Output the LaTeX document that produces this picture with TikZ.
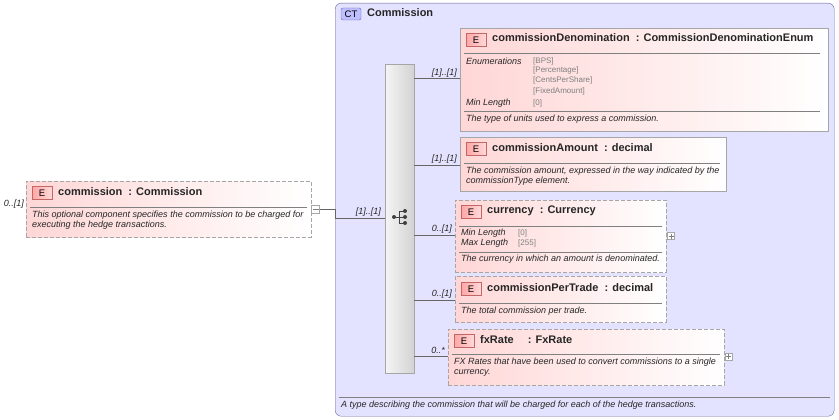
\documentclass[tikz,border=0pt]{standalone}
\usepackage{fontspec}
\setmainfont{Liberation Sans}
\begin{document}
\begin{tikzpicture}[x=1pt,y=-1pt,
  elem/.style={draw=gray!70, left color=red!16, right color=white},
  elemopt/.style={elem, dashed, dash pattern=on 4pt off 2pt},
  badge/.style={draw=red!60!black!60, left color=red!35, right color=red!15, minimum width=20pt, minimum height=13pt, inner sep=0pt, font=\fontsize{9.5}{10}\selectfont},
  ttl/.style={anchor=west, inner sep=0pt, font=\fontsize{11}{12}\selectfont\bfseries, text=black!85},
  sm/.style={anchor=west, inner sep=0pt, font=\fontsize{9}{10}\selectfont\itshape, text=black!85, align=left},
  val/.style={anchor=west, inner sep=0pt, font=\fontsize{8}{9}\selectfont, text=gray},
  card/.style={anchor=east, inner sep=0pt, font=\fontsize{9}{10}\selectfont\itshape, text=black!85},
  sep/.style={draw=gray, line width=0.6pt},
  conn/.style={draw=gray!80!black, line width=0.6pt},
  pm/.style={draw=gray!70, fill=white, minimum size=8pt, inner sep=0pt}]
\useasboundingbox (0,0) rectangle (839,420);
% CT container
\node[draw=gray!80!blue, rounded corners=6pt, fill=blue!11, minimum width=499pt, minimum height=413pt, anchor=north west, inner sep=0pt] (ct) at (335,3) {};
\node[draw=blue!50!black!60, fill=blue!25, rounded corners=2pt, minimum width=20pt, minimum height=12pt, inner sep=0pt, font=\fontsize{9.5}{10}\selectfont] (ctb) at (351,14) {CT};
\node[ttl] (ctt) at (367,13) {Commission};
\draw[sep] (339,397) -- (830,397);
\node[sm] (ctd) at (341,405) {A type describing the commission that will be charged for each of the hedge transactions.};
% sequence bar
\node[draw=gray!70, left color=gray!8, right color=gray!35, minimum width=29pt, minimum height=309pt, anchor=north west, inner sep=0pt] (seq) at (385,64) {};
\draw[black!75,line width=1pt] (394,217)--(399,217) (399,211)--(399,223) (399,211)--(405,211) (399,223)--(405,223) (399,217)--(405,217);
\foreach \p in {(394,217),(405,211),(405,217),(405,223)} \fill[black!75] \p circle[radius=2pt];
% root element
\node[elemopt, minimum width=285pt, minimum height=56pt, anchor=north west, inner sep=0pt] (root) at (26,181) {};
\node[badge] (rb) at (42,193) {E};
\node[ttl] (rt) at (58,192) {commission \ : Commission};
\draw[sep] (30,207) -- (307,207);
\node[sm] (rd) at (32,220) {This optional component specifies the commission to be charged for\\executing the hedge transactions.};
\node[card] (rc) at (24,204) {0..[1]};
\node[pm] (rm) at (315.5,209.5) {};
\draw[gray] (312.5,209.5) -- (318.5,209.5);
\coordinate (j1) at (335,209.5);
\coordinate (j2) at (335,218);
\draw[conn] (rm) -- (j1) -- (j2) -- (seq.west |- j2);
\node[card] at (381,212) {[1]..[1]};
% child 1
\node[elem, minimum width=368pt, minimum height=103pt, anchor=north west, inner sep=0pt] (c1) at (460,28) {};
\node[badge] at (476,40) {E};
\node[ttl] at (492,38) {commissionDenomination \ : CommissionDenominationEnum};
\draw[sep] (464,53) -- (820,53);
\node[sm] at (466,61) {Enumerations};
\node[val] at (533,61) {[BPS]};
\node[val] at (533,70) {[Percentage]};
\node[val] at (533,80) {[CentsPerShare]};
\node[val] at (533,91) {[FixedAmount]};
\node[sm] at (466,103) {Min Length};
\node[val] at (533,103) {[0]};
\draw[sep] (464,111) -- (820,111);
\node[sm] at (466,119) {The type of units used to express a commission.};
\draw[conn] (seq.east |- 0,78) -- (c1.west |- 0,78);
\node[card] at (457,73) {[1]..[1]};
% child 2
\node[elem, minimum width=266pt, minimum height=54pt, anchor=north west, inner sep=0pt] (c2) at (460,137) {};
\node[badge] at (476,149) {E};
\node[ttl] at (492,148) {commissionAmount \ : decimal};
\draw[sep] (464,163) -- (720,163);
\node[sm] at (466,176) {The commission amount, expressed in the way indicated by the\\commissionType element.};
\draw[conn] (seq.east |- 0,165) -- (c2.west |- 0,165);
\node[card] at (457,159) {[1]..[1]};
% child 3
\node[elemopt, minimum width=211pt, minimum height=72pt, anchor=north west, inner sep=0pt] (c3) at (455,200) {};
\node[badge] at (471,212) {E};
\node[ttl] at (487,211) {currency \ : Currency};
\draw[sep] (459,226) -- (662,226);
\node[sm] at (461,233) {Min Length};
\node[sm] at (461,243) {Max Length};
\node[val] at (518,233) {[0]};
\node[val] at (518,243) {[255]};
\draw[sep] (459,252) -- (662,252);
\node[sm] at (461,259) {The currency in which an amount is denominated.};
\node[pm, minimum size=7pt] (p3) at (671,236) {};
\draw[gray] (668.5,236) -- (673.5,236) (671,233.5) -- (671,238.5);
\draw[conn] (seq.east |- 0,235) -- (c3.west |- 0,235);
\node[card] at (452,229) {0..[1]};
% child 4
\node[elemopt, minimum width=211pt, minimum height=46pt, anchor=north west, inner sep=0pt] (c4) at (455,276) {};
\node[badge] at (471,289) {E};
\node[ttl] at (487,288) {commissionPerTrade \ : decimal};
\draw[sep] (459,303) -- (662,303);
\node[sm] at (461,311) {The total commission per trade.};
\draw[conn] (seq.east |- 0,300) -- (c4.west |- 0,300);
\node[card] at (452,294) {0..[1]};
% child 5
\node[elemopt, minimum width=276pt, minimum height=56pt, anchor=north west, inner sep=0pt] (c5) at (448,329) {};
\node[badge] at (464,341) {E};
\node[ttl] at (480,340) {fxRate \quad : FxRate};
\draw[sep] (452,354) -- (720,354);
\node[sm] at (454,367) {FX Rates that have been used to convert commissions to a single\\currency.};
\node[pm, minimum size=7pt] (p5) at (728.5,356.5) {};
\draw[gray] (726,356.5) -- (731,356.5) (728.5,354) -- (728.5,359);
\draw[conn] (seq.east |- 0,356) -- (c5.west |- 0,356);
\node[card] at (445,350) {0..*};
\end{tikzpicture}
\end{document}
